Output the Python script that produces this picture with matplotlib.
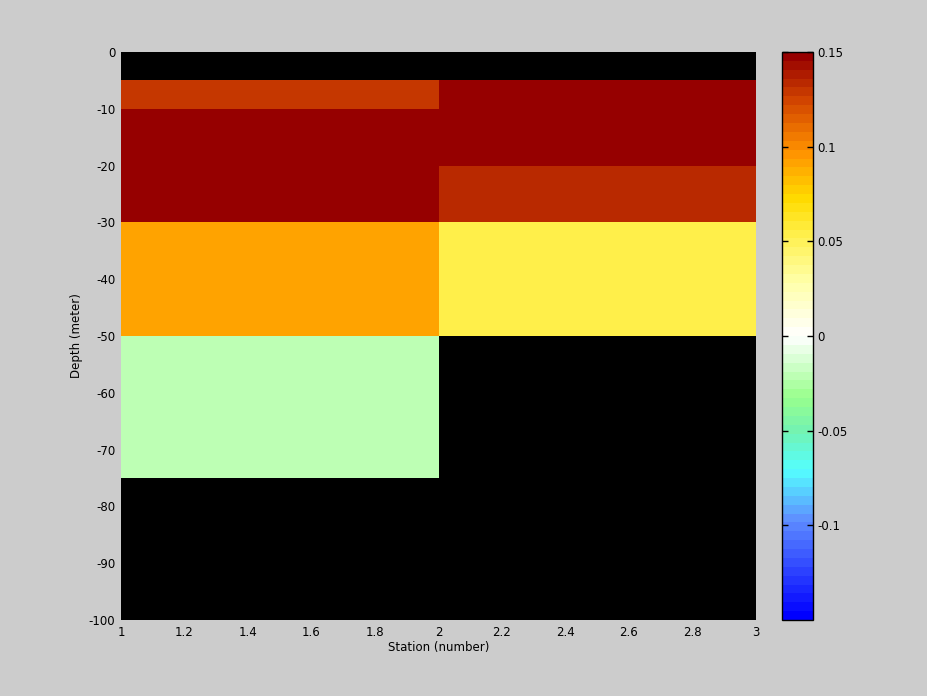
import matplotlib
matplotlib.use("Agg")
import matplotlib.pyplot as plt
import numpy as np
from matplotlib.colors import LinearSegmentedColormap

plt.rcParams["axes.unicode_minus"] = False

# Data
stations = [1, 2, 3]
depth_edges = [0, -5, -10, -20, -30, -50, -75, -100]
# rows: depth layers (top to bottom), columns: station 1..2
values = np.array([
    [np.nan, np.nan],
    [0.128, 0.150],
    [0.150, 0.150],
    [0.150, 0.135],
    [0.092, 0.056],
    [-0.020, np.nan],
    [np.nan, np.nan],
])

# Colormap (blue -> cyan -> green -> white -> yellow -> orange -> dark red)
anchors = [
    (0.000, (0.00, 0.00, 1.00)),
    (0.170, (0.37, 0.55, 1.00)),
    (0.260, (0.33, 1.00, 1.00)),
    (0.330, (0.45, 0.95, 0.70)),
    (0.390, (0.60, 1.00, 0.55)),
    (0.500, (1.00, 1.00, 1.00)),
    (0.600, (1.00, 1.00, 0.65)),
    (0.680, (1.00, 0.94, 0.30)),
    (0.745, (1.00, 0.86, 0.00)),
    (0.830, (1.00, 0.57, 0.00)),
    (0.920, (0.82, 0.27, 0.00)),
    (1.000, (0.59, 0.00, 0.00)),
]
cmap = LinearSegmentedColormap.from_list("ts", anchors, N=64)
cmap.set_bad("black")

fig = plt.figure(figsize=(9.28, 6.96), dpi=100, facecolor="#cccccc")
ax = fig.add_axes([121 / 928, 1 - 620 / 696, 635 / 928, 568 / 696])
cax = fig.add_axes([782 / 928, 1 - 620 / 696, 31 / 928, 568 / 696])

X, Y = np.meshgrid(stations, depth_edges)
mesh = ax.pcolormesh(X, Y, np.ma.masked_invalid(values), cmap=cmap,
                     vmin=-0.15, vmax=0.15, shading="flat")
ax.set_facecolor("black")
ax.set_xlim(1, 3)
ax.set_ylim(-100, 0)
ax.set_xticks(np.arange(1, 3.01, 0.2))
ax.set_xticklabels(["1", "1.2", "1.4", "1.6", "1.8", "2", "2.2", "2.4", "2.6", "2.8", "3"])
ax.set_yticks(np.arange(-100, 1, 10))
ax.tick_params(direction="in", labelsize=8.5, length=0, pad=4)
ax.set_xlabel("Station (number)", fontsize=8.5, labelpad=2)
ax.set_ylabel("Depth (meter)", fontsize=8.5, labelpad=4)
for s in ax.spines.values():
    s.set_visible(False)

cb = fig.colorbar(mesh, cax=cax)
cb.set_ticks([-0.1, -0.05, 0, 0.05, 0.1, 0.15])
cb.set_ticklabels(["-0.1", "-0.05", "0", "0.05", "0.1", "0.15"])
cax.tick_params(direction="in", labelsize=8.5, left=True, right=True,
                length=4, width=1, pad=3)
cb.outline.set_linewidth(1)

fig.savefig("out.png", dpi=100, facecolor=fig.get_facecolor())
